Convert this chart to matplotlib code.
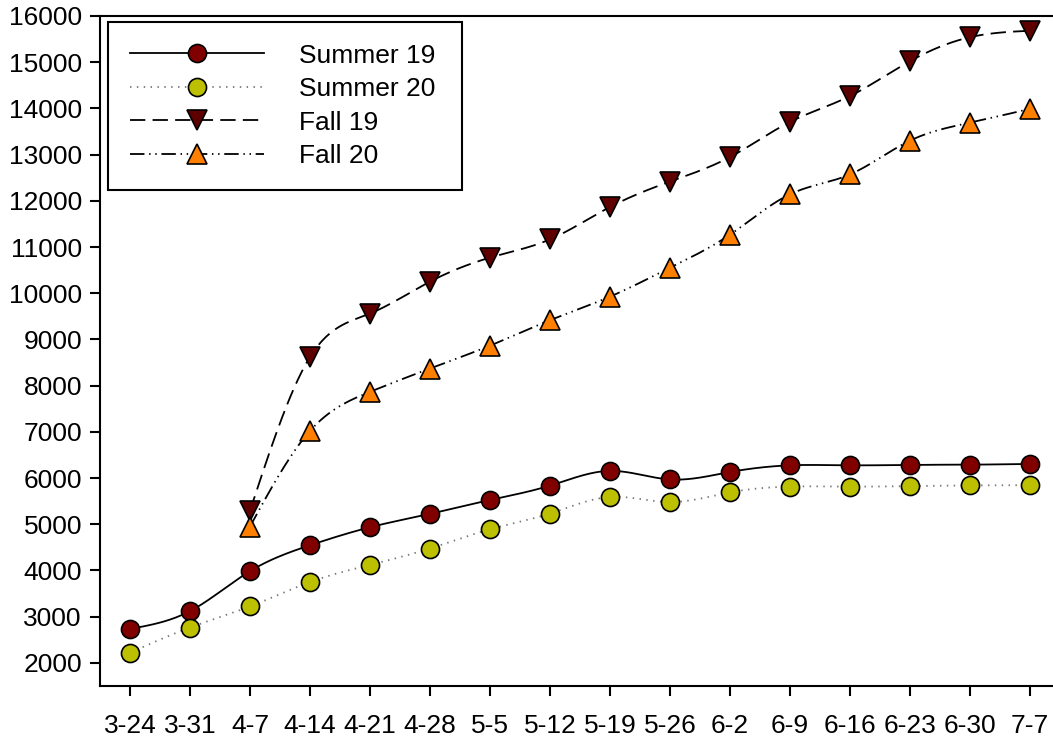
import numpy as np
import matplotlib.pyplot as plt

plt.rcParams['font.family'] = ['Liberation Sans', 'DejaVu Sans']

# dates on the x axis
dates = ['3-24', '3-31', '4-7', '4-14', '4-21', '4-28', '5-5', '5-12',
         '5-19', '5-26', '6-2', '6-9', '6-16', '6-23', '6-30', '7-7']

summer19 = [2735, 3120, 3985, 4545, 4935, 5225, 5525, 5835,
            6155, 5970, 6130, 6275, 6275, 6285, 6290, 6305]
summer20 = [2220, 2765, 3220, 3750, 4120, 4475, 4890, 5230,
            5590, 5480, 5690, 5815, 5815, 5825, 5840, 5845]
# fall series start at 4-7
fall19 = [5290, 8620, 9560, 10250, 10770, 11165, 11865, 12415,
          12945, 13705, 14265, 15020, 15540, 15680]
fall20 = [4950, 7020, 7865, 8370, 8865, 9415, 9925, 10550,
          11265, 12140, 12570, 13300, 13690, 13990]


# natural cubic spline, only used to draw the smooth line between the points
def spline(x, y, n=30):
    x = np.asarray(x, float)
    y = np.asarray(y, float)
    k = len(x)
    h = np.diff(x)
    A = np.zeros((k, k))
    b = np.zeros(k)
    A[0, 0] = 1
    A[-1, -1] = 1
    for i in range(1, k - 1):
        A[i, i - 1] = h[i - 1]
        A[i, i] = 2 * (h[i - 1] + h[i])
        A[i, i + 1] = h[i]
        b[i] = 6 * ((y[i + 1] - y[i]) / h[i] - (y[i] - y[i - 1]) / h[i - 1])
    M = np.linalg.solve(A, b)
    xs, ys = [], []
    for i in range(k - 1):
        t = np.linspace(x[i], x[i + 1], n, endpoint=(i == k - 2))
        a = x[i + 1] - t
        c = t - x[i]
        s = (M[i] * a**3 + M[i + 1] * c**3) / (6 * h[i]) \
            + (y[i] / h[i] - M[i] * h[i] / 6) * a \
            + (y[i + 1] / h[i] - M[i + 1] * h[i] / 6) * c
        xs.append(t)
        ys.append(s)
    return np.concatenate(xs), np.concatenate(ys)


fig = plt.figure(figsize=(10.53, 7.44), dpi=100)
ax = fig.add_axes([0.095, 0.078, 0.904, 0.9005])

x_all = np.arange(len(dates))
x_fall = x_all[2:]

series = [
    (x_all, summer19, 'Summer 19', 'o', '#800000', 13, dict(linestyle='-', color='black')),
    (x_all, summer20, 'Summer 20', 'o', '#bcc000', 13, dict(dashes=(0.8, 3.0), color='#777777')),
    (x_fall, fall19, 'Fall 19', 'v', '#5e0000', 14.5, dict(dashes=(8.5, 4), color='black')),
    (x_fall, fall20, 'Fall 20', '^', '#ff8000', 14.5, dict(dashes=(8, 2.6, 0.8, 2.6, 0.8, 2.6), color='black')),
]

handles = []
for xv, yv, lab, mk, col, ms, style in series:
    sx, sy = spline(xv, yv)
    ax.plot(sx, sy, lw=1.3, zorder=2, **style)
    ax.plot(xv, yv, linestyle='none', marker=mk, markersize=ms,
            markerfacecolor=col, markeredgecolor='black', markeredgewidth=1.2, zorder=3)
    h, = ax.plot([], [], lw=1.3, marker=mk, markersize=ms, markerfacecolor=col,
                 markeredgecolor='black', markeredgewidth=1.2, label=lab, **style)
    handles.append(h)

ax.set_xlim(-0.5, 15.37)
ax.set_ylim(1500, 16000)
ax.set_xticks(x_all)
ax.set_xticklabels(dates)
ax.set_yticks(np.arange(2000, 16001, 1000))

ax.spines['right'].set_visible(False)
for s in ['left', 'bottom', 'top']:
    ax.spines[s].set_linewidth(1.5)
ax.tick_params(direction='out', length=7, width=1.5, labelsize=19)
ax.tick_params(axis='x', pad=13)
ax.tick_params(axis='y', pad=6)

leg = ax.legend(handles=handles, loc='upper left',
                bbox_to_anchor=(0.0084, 0.991 - 0.252, 0.372, 0.252),
                mode='expand', borderaxespad=0, fontsize=19,
                handlelength=5.1, handletextpad=1.3, labelspacing=0.36,
                borderpad=0.82, numpoints=1, fancybox=False, framealpha=1,
                edgecolor='black')
leg.get_frame().set_linewidth(1.5)

fig.savefig('out.png', dpi=100)
